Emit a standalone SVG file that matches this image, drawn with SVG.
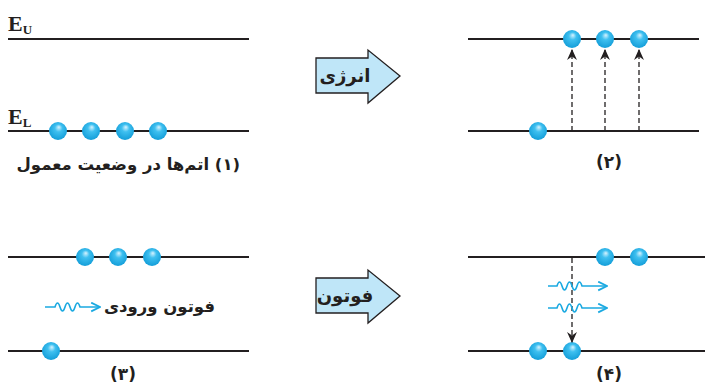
<svg xmlns="http://www.w3.org/2000/svg" width="705" height="385" viewBox="0 0 705 385">
<defs>
<radialGradient id="ball" cx="0.5" cy="0.45" r="0.6" fx="0.55" fy="0.28">
<stop offset="0" stop-color="#d8f3ff"/>
<stop offset="0.35" stop-color="#3fc0f0"/>
<stop offset="1" stop-color="#0f9ad6"/>
</radialGradient>
<marker id="ah" viewBox="0 0 10 10" refX="9" refY="5" markerWidth="11" markerHeight="11" orient="auto" markerUnits="userSpaceOnUse">
<path d="M0,0.5 L10,5 L0,9.5 L3,5 Z" fill="#231f20"/>
</marker>
<marker id="bh" viewBox="0 0 10 10" refX="9" refY="5" markerWidth="11" markerHeight="11" orient="auto" markerUnits="userSpaceOnUse">
<path d="M1,1 L9,5 L1,9" fill="none" stroke="#1aa9e1" stroke-width="1.6"/>
</marker>
</defs>
<style>
.lvl{stroke:#231f20;stroke-width:2.2;fill:none}
.dash{stroke:#231f20;stroke-width:1.3;stroke-dasharray:5,3;fill:none}
.wave{stroke:#1aa9e1;stroke-width:1.6;fill:none}
.blk{fill:#bfe6f8;stroke:#231f20;stroke-width:1.3}
.fa{font-family:"DejaVu Sans",sans-serif;font-weight:bold;fill:#231f20}
.en{font-family:"Liberation Serif",serif;font-weight:bold;fill:#231f20}
</style>

<g id="panel1">
<line class="lvl" x1="8" y1="39" x2="249" y2="39"/>
<line class="lvl" x1="8" y1="131" x2="249" y2="131"/>
<text class="en" x="8" y="31" font-size="22">E<tspan font-size="13" dy="3">U</tspan></text>
<text class="en" x="8" y="124" font-size="22">E<tspan font-size="13" dy="3">L</tspan></text>
<circle cx="58" cy="131" r="9" fill="url(#ball)"/>
<circle cx="91" cy="131" r="9" fill="url(#ball)"/>
<circle cx="125" cy="131" r="9" fill="url(#ball)"/>
<circle cx="158" cy="131" r="9" fill="url(#ball)"/>
<text class="fa" x="240" y="170" font-size="16.5" direction="rtl" text-anchor="start">(۱) اتم‌ها در وضعیت معمول</text>
</g>

<g id="arrow-energy">
<path class="blk" d="M316,58 H368 V50 L400,76 L368,103 V93 H316 Z"/>
<text class="fa" x="345" y="82" font-size="18" text-anchor="middle">انرژی</text>
</g>

<g id="panel2">
<line class="lvl" x1="468" y1="39" x2="699" y2="39"/>
<line class="lvl" x1="468" y1="131" x2="699" y2="131"/>
<circle cx="538" cy="131" r="9" fill="url(#ball)"/>
<circle cx="572" cy="39" r="9" fill="url(#ball)"/>
<circle cx="605" cy="39" r="9" fill="url(#ball)"/>
<circle cx="639" cy="39" r="9" fill="url(#ball)"/>
<text class="fa" x="609" y="168" font-size="17" text-anchor="middle">(۲)</text>
</g>

<g id="panel3">
<line class="lvl" x1="8" y1="257" x2="249" y2="257"/>
<line class="lvl" x1="8" y1="351" x2="249" y2="351"/>
<circle cx="85" cy="257" r="9" fill="url(#ball)"/>
<circle cx="118" cy="257" r="9" fill="url(#ball)"/>
<circle cx="152" cy="257" r="9" fill="url(#ball)"/>
<circle cx="51" cy="351" r="9" fill="url(#ball)"/>
<text class="fa" x="215" y="312" font-size="16.5" direction="rtl" text-anchor="start">فوتون ورودی</text>
<text class="fa" x="123" y="380" font-size="17" text-anchor="middle">(۳)</text>
</g>

<g id="arrow-photon">
<path class="blk" d="M316,278 H368 V270 L400,296 L368,323 V313 H316 Z"/>
<text class="fa" x="345" y="302" font-size="18" text-anchor="middle">فوتون</text>
</g>

<g id="panel4">
<line class="lvl" x1="468" y1="257" x2="705" y2="257"/>
<line class="lvl" x1="468" y1="351" x2="705" y2="351"/>
<circle cx="605" cy="257" r="9" fill="url(#ball)"/>
<circle cx="639" cy="257" r="9" fill="url(#ball)"/>
<circle cx="538" cy="351" r="9" fill="url(#ball)"/>
<circle cx="572" cy="351" r="9" fill="url(#ball)"/>
<text class="fa" x="609" y="380" font-size="17" text-anchor="middle">(۴)</text>
</g>

<g id="connectors">
<line class="dash" x1="572" y1="131" x2="572" y2="50" marker-end="url(#ah)"/>
<line class="dash" x1="605" y1="131" x2="605" y2="50" marker-end="url(#ah)"/>
<line class="dash" x1="639" y1="131" x2="639" y2="50" marker-end="url(#ah)"/>
<line class="dash" x1="572" y1="258" x2="572" y2="342" marker-end="url(#ah)"/>
<path class="wave" d="M45,307 H55 q2.5,-8 5,0 t5,0 t5,0 t5,0 t5,0 H100" marker-end="url(#bh)"/>
<path class="wave" d="M548,286 H557 q2.5,-8 5,0 t5,0 t5,0 t5,0 t5,0 H607" marker-end="url(#bh)"/>
<path class="wave" d="M548,308 H557 q2.5,-8 5,0 t5,0 t5,0 t5,0 t5,0 H607" marker-end="url(#bh)"/>
</g>
</svg>
